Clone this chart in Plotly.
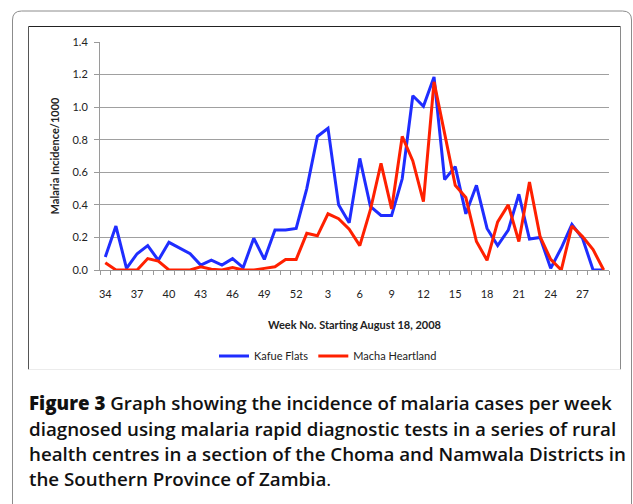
import plotly.graph_objects as go

# ---- data ----
weeks = list(range(34, 53)) + list(range(1, 30))
kafue_flats = [0.08, 0.27, 0.01, 0.10, 0.15, 0.06, 0.17, 0.135, 0.10, 0.03,
               0.06, 0.03, 0.07, 0.015, 0.195, 0.065, 0.245, 0.245, 0.255, 0.50,
               0.82, 0.87, 0.40, 0.29, 0.685, 0.39, 0.335, 0.335, 0.56, 1.07,
               1.005, 1.185, 0.555, 0.635, 0.345, 0.52, 0.255, 0.15, 0.245, 0.465,
               0.19, 0.20, 0.01, 0.135, 0.28, 0.195, 0.0, 0.0]
macha_heartland = [0.045, 0.0, 0.0, 0.0, 0.07, 0.055, 0.0, 0.0, 0.0, 0.02,
                   0.005, 0.0, 0.015, 0.0, 0.0, 0.01, 0.02, 0.065, 0.065, 0.225,
                   0.21, 0.345, 0.315, 0.25, 0.15, 0.37, 0.655, 0.375, 0.82, 0.67,
                   0.42, 1.155, 0.84, 0.52, 0.445, 0.175, 0.06, 0.295, 0.40, 0.175,
                   0.54, 0.205, 0.065, 0.0, 0.27, 0.205, 0.125, 0.0]
y_ticks = [0.0, 0.2, 0.4, 0.6, 0.8, 1.0, 1.2, 1.4]
caption_lines = [
    '<span style="font-weight:800">Figure 3</span> Graph showing the incidence of malaria cases per week',
    "diagnosed using malaria rapid diagnostic tests in a series of rural",
    "health centres in a section of the Choma and Namwala Districts in",
    'the Southern Province of Zambia<span style="font-weight:400">.</span>',
]

W, H = 633, 504
L, R, T, B = 100, 609, 42, 270

def px(x):
    return (x - L) / (R - L)

def py(y):
    return (B - y) / (B - T)

xi = list(range(len(weeks)))
tick_idx = xi[::3]
tick_txt = [str(weeks[i]) for i in tick_idx]

fig = go.Figure()
fig.add_trace(go.Scatter(x=xi, y=kafue_flats, mode="lines", name="Kafue Flats",
                         line=dict(color="#1f2dff", width=3)))
fig.add_trace(go.Scatter(x=xi, y=macha_heartland, mode="lines", name="Macha Heartland",
                         line=dict(color="#ff2000", width=3)))

chart_font = "Lato, Open Sans, sans-serif"

fig.update_layout(
    template="none",
    width=W, height=H,
    margin=dict(l=L, r=W - R, t=T, b=H - B, autoexpand=False),
    paper_bgcolor="white", plot_bgcolor="white",
    font=dict(family=chart_font, size=11, color="#222"),
    showlegend=True,
    legend=dict(orientation="h", x=px(328), y=py(356), xanchor="center", yanchor="middle",
                font=dict(size=11, family=chart_font, color="#222"), itemwidth=30,
                bgcolor="rgba(0,0,0,0)"),
    xaxis=dict(range=[-0.5, len(weeks) - 0.5], tickvals=tick_idx, ticktext=tick_txt,
               ticks="", showgrid=False, zeroline=False, showline=True,
               linecolor="#9a9a9a", linewidth=1, ticklabelstandoff=14,
               tickfont=dict(size=11, family=chart_font, color="#222"),
               minor=dict(tick0=-0.5, dtick=1, ticks="outside", ticklen=4,
                          tickcolor="#9a9a9a", showgrid=False),
               title=dict(text="<b>Week No. Starting August 18, 2008</b>",
                          font=dict(size=11, family=chart_font, color="#222"), standoff=22)),
    yaxis=dict(range=[0, 1.4], tickvals=y_ticks, ticktext=[f"{v:.1f}" for v in y_ticks],
               ticks="outside", ticklen=5, tickcolor="#9a9a9a", ticklabelstandoff=4,
               showgrid=True, gridcolor="#a0a0a0", gridwidth=1, zeroline=False,
               showline=True, linecolor="#9a9a9a", linewidth=1,
               tickfont=dict(size=11, family=chart_font, color="#222"),
               title=dict(text="<b>Malaria Incidence/1000</b>",
                          font=dict(size=11, family=chart_font, color="#222"), standoff=10)),
)

# outer rounded frame
x0, x1, y0, y1, r = 12.5, 631.5, 11, 520, 9
path = (f"M {px(x0)},{py(y1)} L {px(x0)},{py(y0 + r)} "
        f"Q {px(x0)},{py(y0)} {px(x0 + r)},{py(y0)} "
        f"L {px(x1 - r)},{py(y0)} Q {px(x1)},{py(y0)} {px(x1)},{py(y0 + r)} "
        f"L {px(x1)},{py(y1)}")
fig.add_shape(type="path", xref="paper", yref="paper", path=path,
              line=dict(color="#8c8c8c", width=1), layer="below")
# inner chart frame
ix0, ix1, iy0, iy1 = 28.5, 620.5, 26.5, 369.5
fig.add_shape(type="line", xref="paper", yref="paper", x0=px(ix0), x1=px(ix1), y0=py(iy0), y1=py(iy0),
              line=dict(color="#222", width=1), layer="below")
fig.add_shape(type="line", xref="paper", yref="paper", x0=px(ix0), x1=px(ix0), y0=py(iy0), y1=py(iy1),
              line=dict(color="#555", width=1), layer="below")
fig.add_shape(type="line", xref="paper", yref="paper", x0=px(ix1), x1=px(ix1), y0=py(iy0), y1=py(iy1),
              line=dict(color="#8a8a8a", width=1), layer="below")
fig.add_shape(type="line", xref="paper", yref="paper", x0=px(ix0), x1=px(ix1), y0=py(iy1), y1=py(iy1),
              line=dict(color="#ececec", width=1), layer="below")

# caption
cap_font = "Open Sans, sans-serif"
cap_y = [402, 428, 453, 479]
for txt, yy in zip(caption_lines, cap_y):
    fig.add_annotation(text=txt, xref="paper", yref="paper", x=px(27), y=py(yy),
                       xanchor="left", yanchor="middle", showarrow=False,
                       font=dict(size=18.75, family=cap_font, color="#111", weight=600))

fig.write_html("out.html", config={"displayModeBar": False},
               post_script="document.body.style.margin='0px';")
